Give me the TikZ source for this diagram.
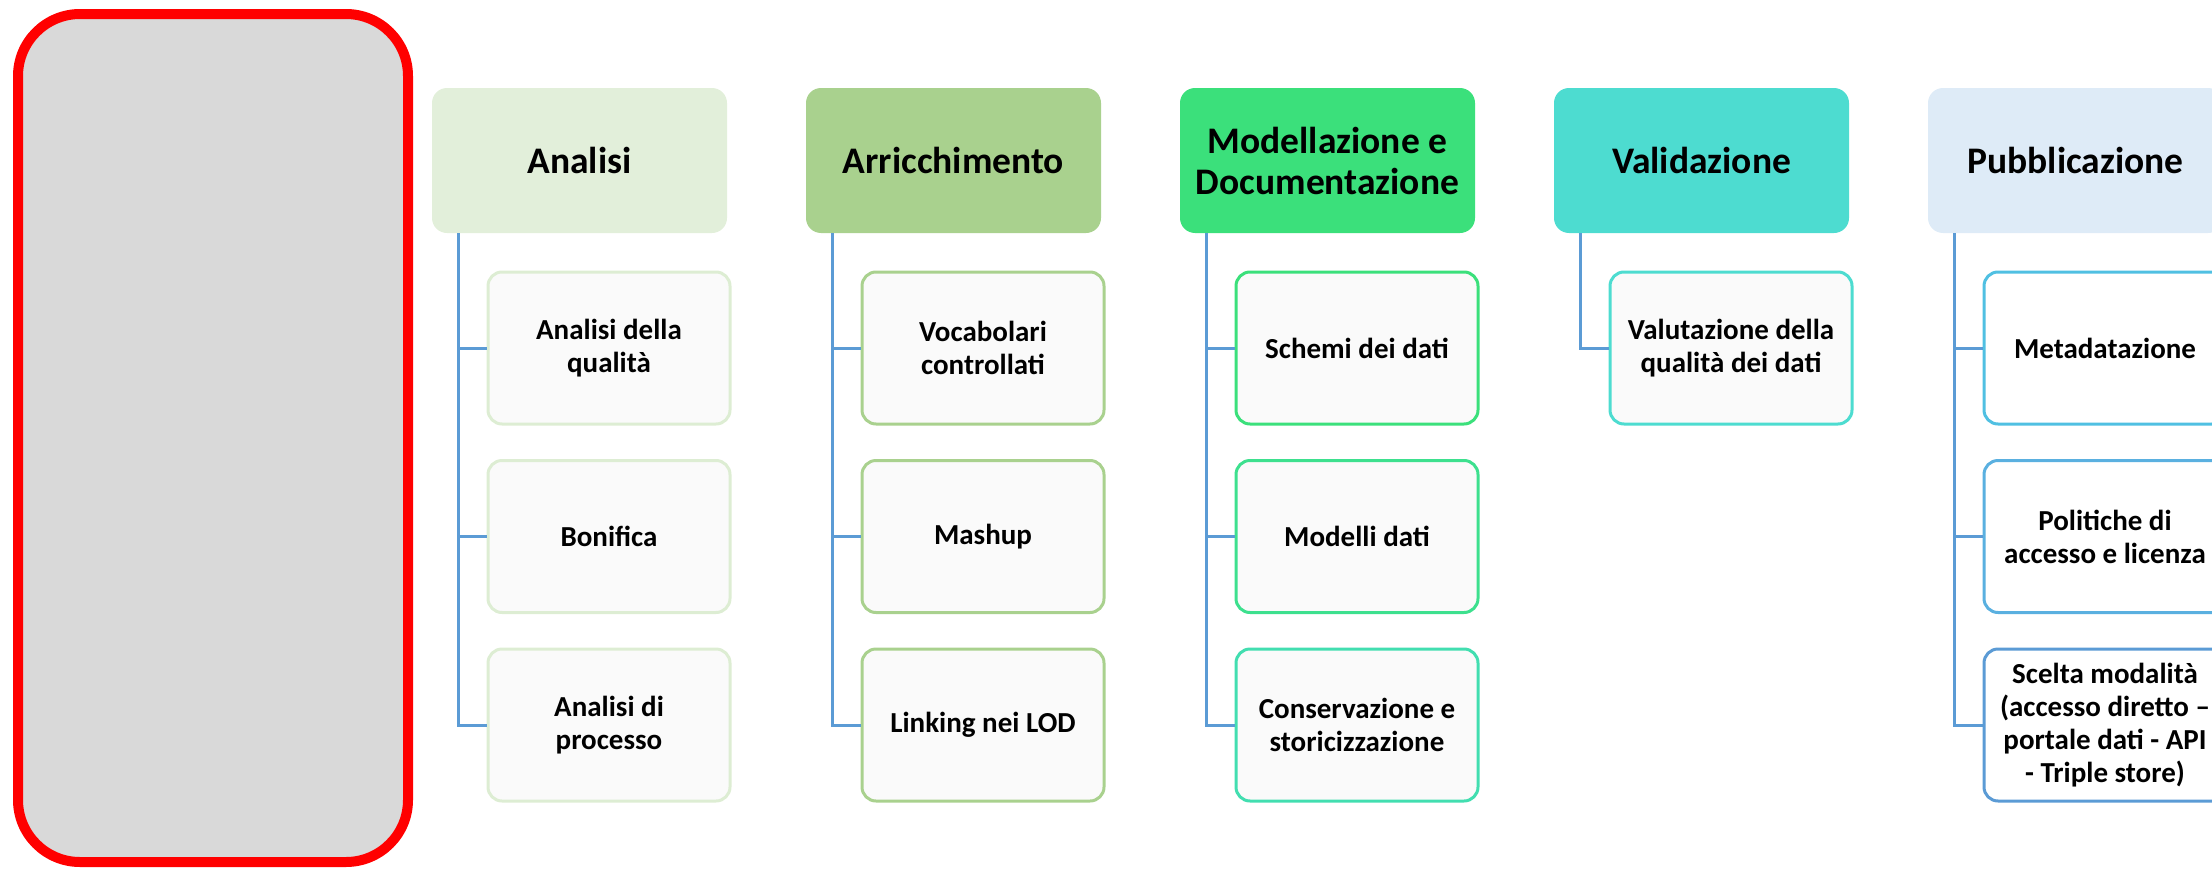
\documentclass[tikz,border=0pt]{standalone}
\usepackage{fontspec}
\setmainfont{Carlito}
\definecolor{redc}{HTML}{FF0000}
\definecolor{grayc}{HTML}{D9D9D9}
\definecolor{linec}{HTML}{5B9BD5}
\definecolor{hA}{HTML}{E2EFDA}
\definecolor{hB}{HTML}{A9D18E}
\definecolor{hC}{HTML}{3BE07B}
\definecolor{hD}{HTML}{4DDCD0}
\definecolor{hE}{HTML}{DEEBF7}
\definecolor{cA}{HTML}{DDEDD3}
\definecolor{cC1}{HTML}{3BE07B}
\definecolor{cC2}{HTML}{3DE08E}
\definecolor{cC3}{HTML}{42DEB0}
\definecolor{cE1}{HTML}{50C0E2}
\definecolor{cE2}{HTML}{5AB0E0}
\definecolor{cE3}{HTML}{5B9BD5}
\definecolor{chfill}{HTML}{FAFAFA}
\begin{document}
\begin{tikzpicture}[x=1pt,y=-1pt,
  hdr/.style={rounded corners=15pt, minimum width=295pt, minimum height=145pt,
    inner sep=0pt, align=center, font=\fontsize{37.5}{41}\selectfont\bfseries},
  chl/.style={draw, line width=3pt, rounded corners=14pt, fill=chfill,
    minimum width=242pt, minimum height=152pt, inner sep=0pt, align=center,
    font=\fontsize{29}{33}\selectfont\bfseries},
  conn/.style={draw=linec, line width=3pt}]
\useasboundingbox (0,0) rectangle (2212,870);
\clip (0,0) rectangle (2212,870);

\node[draw=redc, fill=grayc, line width=10pt, rounded corners=62pt,
  minimum width=390pt, minimum height=848pt, inner sep=0pt] (stage) at (213,438) {};

% headers
\node[hdr, fill=hA] (hA) at (579.5,160.5) {Analisi};
\node[hdr, fill=hB] (hB) at (953.5,160.5) {Arricchimento};
\node[hdr, fill=hC] (hC) at (1327.5,160.5) {Modellazione e\\Documentazione};
\node[hdr, fill=hD] (hD) at (1701.5,160.5) {Validazione};
\node[hdr, fill=hE] (hE) at (2075.5,160.5) {Pubblicazione};

% children
\node[chl, draw=cA] (a1) at (609,348) {Analisi della\\qualità};
\node[chl, draw=cA] (a2) at (609,536.5) {Bonifica};
\node[chl, draw=cA] (a3) at (609,725) {Analisi di\\processo};

\node[chl, draw=hB] (b1) at (983,348) {Vocabolari\\controllati};
\node[chl, draw=hB] (b2) at (983,536.5) {Mashup};
\node[chl, draw=hB] (b3) at (983,725) {Linking nei LOD};

\node[chl, draw=cC1] (c1) at (1357,348) {Schemi dei dati};
\node[chl, draw=cC2] (c2) at (1357,536.5) {Modelli dati};
\node[chl, draw=cC3] (c3) at (1357,725) {Conservazione e\\storicizzazione};

\node[chl, draw=hD] (d1) at (1731,348) {Valutazione della\\qualità dei dati};

\node[chl, draw=cE1, fill=white] (e1) at (2105,348) {Metadatazione};
\node[chl, draw=cE2, fill=white] (e2) at (2105,536.5) {Politiche di\\accesso e licenza};
\node[chl, draw=cE3, fill=white] (e3) at (2105,725) {Scelta modalità\\(accesso diretto –\\portale dati - API\\- Triple store)};

% connectors
\foreach \h/\k in {hA/a3, hA/a1, hA/a2, hB/b3, hB/b1, hB/b2, hC/c3, hC/c1, hC/c2, hD/d1, hE/e3, hE/e1, hE/e2}
  \draw[conn] ([xshift=27pt]\h.south west) |- (\k.west);
\end{tikzpicture}
\end{document}
